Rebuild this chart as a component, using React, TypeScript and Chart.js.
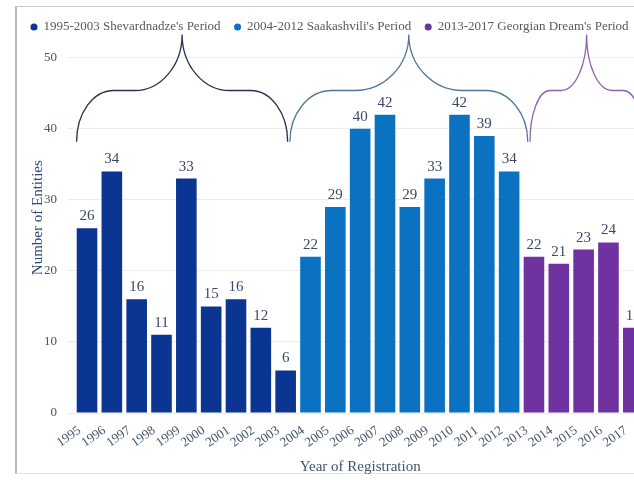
import React, { useEffect, useRef } from "react";
import { Chart, registerables } from "chart.js";

Chart.register(...registerables);

const FONT = "'Liberation Serif', 'Times New Roman', serif";

const years = [
  "1995", "1996", "1997", "1998", "1999", "2000", "2001", "2002", "2003",
  "2004", "2005", "2006", "2007", "2008", "2009", "2010", "2011", "2012",
  "2013", "2014", "2015", "2016", "2017",
];

const shevardnadze = [26, 34, 16, 11, 33, 15, 16, 12, 6, null, null, null, null, null, null, null, null, null, null, null, null, null, null];
const saakashvili = [null, null, null, null, null, null, null, null, null, 22, 29, 40, 42, 29, 33, 42, 39, 34, null, null, null, null, null];
const georgianDream = [null, null, null, null, null, null, null, null, null, null, null, null, null, null, null, null, null, null, 22, 21, 23, 24, 12];

const periodLabels = [
  "1995-2003 Shevardnadze's Period",
  "2004-2012 Saakashvili's Period",
  "2013-2017 Georgian Dream's Period",
];
const periodColors = ["#0b3592", "#0b72c2", "#7031a1"];
const braceColors = ["#27304c", "#52769a", "#8d62ae"];

// brace spans, in category-index units, and heights, in value units
const braceFrom = [-0.42, 8.17, 17.84];
const braceTo = [8.08, 17.75, 22.4];
const BRACE_BASE = 38.2;
const BRACE_SHOULDER = 45.4;
const BRACE_TIP = 53.3;

const yTicks = [0, 10, 20, 30, 40, 50];

const TICK_COLOR = "#44546a";

const dataLabelsPlugin = {
  id: "dataLabels",
  afterDatasetsDraw(chart: any) {
    const ctx = chart.ctx;
    ctx.save();
    ctx.font = `15px ${FONT}`;
    ctx.fillStyle = "#3d4866";
    ctx.textAlign = "center";
    ctx.textBaseline = "middle";
    chart.data.datasets.forEach((ds: any, di: number) => {
      const meta = chart.getDatasetMeta(di);
      meta.data.forEach((el: any, i: number) => {
        const v = ds.data[i];
        if (v == null) return;
        ctx.fillText(String(v), el.x, el.y - 12);
      });
    });
    ctx.restore();
  },
};

// the legend overlaps the top of the plot: give it a small layout height,
// then let it draw in a taller box so its text is not clipped
const legendOverlapPlugin = {
  id: "legendOverlap",
  afterLayout(chart: any) {
    const lg = chart.legend;
    if (lg) {
      lg.height = 40;
      lg.bottom = lg.top + 40;
    }
  },
};

const bracesPlugin = {
  id: "braces",
  afterDraw(chart: any) {
    const ctx = chart.ctx;
    const xs = chart.scales.x;
    const ys = chart.scales.y;
    const k = 0.5523;
    const yb = ys.getPixelForValue(BRACE_BASE);
    const ysh = ys.getPixelForValue(BRACE_SHOULDER);
    const yt = ys.getPixelForValue(BRACE_TIP);
    ctx.save();
    ctx.lineWidth = 1.3;
    braceFrom.forEach((from, i) => {
      const L = xs.getPixelForValue(from);
      const R = xs.getPixelForValue(braceTo[i]);
      const C = (L + R) / 2;
      const h = C - L;
      const a = 0.35 * h;
      const b = yb - ysh;
      const a2 = 0.45 * h;
      const b2 = ysh - yt;
      ctx.strokeStyle = braceColors[i];
      ctx.beginPath();
      ctx.moveTo(L, yb);
      ctx.bezierCurveTo(L, yb - k * b, L + a - k * a, ysh, L + a, ysh);
      ctx.lineTo(C - a2, ysh);
      ctx.bezierCurveTo(C - a2 + k * a2, ysh, C, yt + k * b2, C, yt);
      ctx.bezierCurveTo(C, yt + k * b2, C + a2 - k * a2, ysh, C + a2, ysh);
      ctx.lineTo(R - a, ysh);
      ctx.bezierCurveTo(R - a + k * a, ysh, R, yb - k * b, R, yb);
      ctx.stroke();
    });
    ctx.restore();
  },
};

export default function App() {
  const canvasRef = useRef<HTMLCanvasElement | null>(null);

  useEffect(() => {
    if (!canvasRef.current) return;
    const seriesData = [shevardnadze, saakashvili, georgianDream];
    const chart = new Chart(canvasRef.current, {
      type: "bar",
      data: {
        labels: years,
        datasets: seriesData.map((d, i) => ({
          label: periodLabels[i],
          data: d,
          backgroundColor: periodColors[i],
          borderWidth: 0,
          categoryPercentage: 1,
          barPercentage: 0.83,
        })),
      },
      options: {
        animation: false,
        responsive: false,
        maintainAspectRatio: false,
        layout: { padding: 0 },
        plugins: {
          legend: {
            display: true,
            position: "top",
            align: "start",
            maxHeight: 15.8,
            labels: {
              usePointStyle: true,
              pointStyle: "circle",
              boxWidth: 6,
              boxHeight: 5,
              padding: 14,
              color: "#595959",
              font: { family: FONT, size: 13 },
            },
          },
          tooltip: { enabled: false },
        },
        scales: {
          x: {
            stacked: true,
            offset: true,
            grid: { display: false, drawTicks: false },
            border: { display: false },
            ticks: {
              autoSkip: false,
              minRotation: 35,
              maxRotation: 35,
              labelOffset: -7.4,
              padding: 9.8,
              color: TICK_COLOR,
              font: { family: FONT, size: 13 },
            },
            title: {
              display: true,
              text: "Year of Registration",
              color: TICK_COLOR,
              font: { family: FONT, size: 15 },
              padding: 4,
            },
            afterFit: (s: any) => {
              s.height = 67;
            },
          },
          y: {
            stacked: true,
            min: 0,
            max: 55,
            afterBuildTicks: (s: any) => {
              s.ticks = yTicks.map((v) => ({ value: v }));
            },
            grid: { color: "#ededed", tickLength: 7, drawTicks: true },
            border: { display: false },
            ticks: {
              padding: 10.5,
              color: TICK_COLOR,
              font: { family: FONT, size: 13 },
            },
            title: {
              display: true,
              text: "Number of Entities",
              color: "#2f4a78",
              font: { family: FONT, size: 15 },
              padding: { top: 12, bottom: 0 },
            },
            afterFit: (s: any) => {
              s.width = 57.6;
            },
          },
          yr: {
            type: "linear",
            position: "right",
            display: true,
            grid: { display: false, drawTicks: false },
            border: { display: false },
            ticks: { display: false },
            afterFit: (s: any) => {
              s.width = 91.3;
            },
          },
        },
      },
      plugins: [legendOverlapPlugin, dataLabelsPlugin, bracesPlugin],
    } as any);
    return () => chart.destroy();
  }, []);

  return (
    <div
      style={{
        position: "absolute",
        left: 0,
        top: 0,
        width: 634,
        height: 480,
        overflow: "hidden",
        background: "#ffffff",
      }}
    >
      <div
        style={{
          position: "absolute",
          left: 15,
          top: 6,
          width: 700,
          height: 466,
          borderLeft: "2px solid #b9b9b9",
          borderTop: "1px solid #c9c9c9",
          borderBottom: "1px solid #e4e4e4",
        }}
      />
      <canvas
        ref={canvasRef}
        width={720}
        height={476}
        style={{ position: "absolute", left: 17, top: 4, width: 720, height: 476 }}
      />
    </div>
  );
}
